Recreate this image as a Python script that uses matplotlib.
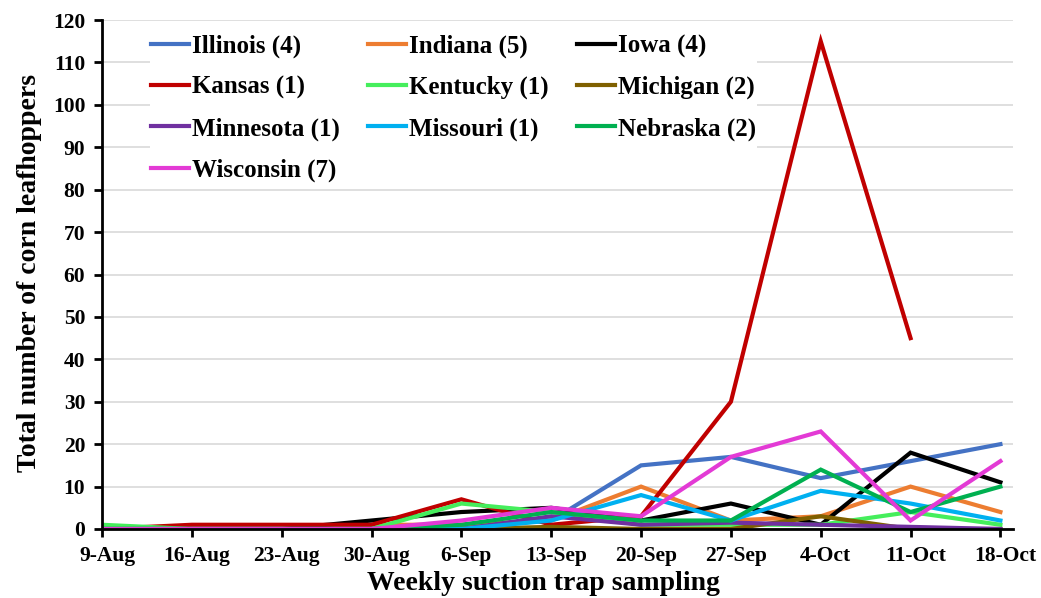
import matplotlib
matplotlib.use("Agg")
import matplotlib.pyplot as plt
import matplotlib.transforms as mtransforms
import numpy as np

dates = ["9-Aug", "16-Aug", "23-Aug", "30-Aug", "6-Sep", "13-Sep", "20-Sep",
         "27-Sep", "4-Oct", "11-Oct", "18-Oct"]

illinois  = [0, 0, 0, 0, 0.5, 2, 15, 17, 12, 16, 20]
indiana   = [0, 0, 0, 1, 1, 2, 10, 2, 3, 10, 4]
iowa      = [0, 0, 0, 2, 4, 5, 2, 6, 1, 18, 11]
kansas    = [0, 1, 1, 1, 7, 1, 3, 30, 115, 45, None]
kentucky  = [1, 0, 0, 0, 6, 4, 1, 1, 1, 4, 1]
michigan  = [0, 0, 0, 0, 0, 0.5, 0, 0, 3, 0, 0]
minnesota = [0, 0, 0, 0, 0, 3, 1, 1.5, 1, 0.5, 0]
missouri  = [0, 0, 0, 0, 0, 2, 8, 2, 9, 6, 2]
nebraska  = [0, 0, 0, 0, 1, 4, 2, 2, 14, 4, 10]
wisconsin = [0, 0, 0, 0, 2, 5, 3, 17, 23, 2, 16]

names = ["Illinois (4)", "Indiana (5)", "Iowa (4)", "Kansas (1)", "Kentucky (1)",
         "Michigan (2)", "Minnesota (1)", "Missouri (1)", "Nebraska (2)", "Wisconsin (7)"]
series = [illinois, indiana, iowa, kansas, kentucky, michigan, minnesota,
          missouri, nebraska, wisconsin]
colors = ["#4472C4", "#ED7D31", "#000000", "#C00000", "#45EE5C", "#7F6000",
          "#7030A0", "#00B0F0", "#00B050", "#E33AD5"]

plt.rcParams['font.family'] = ['Liberation Serif', 'DejaVu Serif']
plt.rcParams['font.weight'] = 'bold'

W, H = 1041, 598
fig = plt.figure(figsize=(W / 100, H / 100), dpi=100)
ax = fig.add_axes([102 / W, 1 - 529 / H, (1013 - 102) / W, (529 - 20) / H])

x = np.arange(len(dates))
handles = {}
for name, vals, c in zip(names, series, colors):
    y = np.array([np.nan if v is None else v for v in vals], dtype=float)
    ln, = ax.plot(x, y, color=c, lw=3.0, solid_joinstyle='miter', zorder=3)
    handles[name] = ln

ax.set_xlim(0, 10.14)
ax.set_ylim(0, 120)
ax.set_yticks(np.arange(0, 121, 10))
ax.set_xticks(x)
ax.set_xticklabels(dates)
ax.grid(axis='y', color='#d9d9d9', lw=1.2, zorder=0)
ax.set_axisbelow(True)
for s in ['top', 'right']:
    ax.spines[s].set_visible(False)
for s in ['left', 'bottom']:
    ax.spines[s].set_linewidth(2)
    ax.spines[s].set_zorder(4)
ax.tick_params(axis='both', direction='out', length=6, width=2, labelsize=15.5)
ax.tick_params(axis='y', pad=6)
ax.tick_params(axis='x', pad=6)
shift = mtransforms.ScaledTranslation(5 / 100, 0, fig.dpi_scale_trans)
for lab in ax.get_xticklabels():
    lab.set_fontweight('bold')
    lab.set_transform(lab.get_transform() + shift)
for lab in ax.get_yticklabels():
    lab.set_fontweight('bold')

fig.text(30 / W, 1 - 273 / H, "Total number of corn leafhoppers", fontsize=20,
         fontweight='bold', ha='center', va='center', rotation=90)
fig.text(543 / W, 1 - 584 / H, "Weekly suction trap sampling", fontsize=20,
         fontweight='bold', ha='center', va='center')

order = ["Illinois (4)", "Kansas (1)", "Minnesota (1)", "Wisconsin (7)",
         "Indiana (5)", "Kentucky (1)", "Missouri (1)",
         "Iowa (4)", "Michigan (2)", "Nebraska (2)"]
leg = ax.legend([handles[n] for n in order], order, ncol=3,
                loc='upper left', bbox_to_anchor=((150 - 102) / 911, 1 - (33 - 20) / 509),
                borderaxespad=0,
                prop={'family': 'Liberation Serif', 'weight': 'bold', 'size': 18},
                handlelength=1.5, handletextpad=0.12, columnspacing=1.15,
                labelspacing=0.72, frameon=True, fancybox=False, borderpad=0.05)
leg.get_frame().set_facecolor('white')
leg.get_frame().set_edgecolor('none')
leg.get_frame().set_alpha(1)
leg.set_zorder(2)

fig.savefig("out.png", dpi=100)
